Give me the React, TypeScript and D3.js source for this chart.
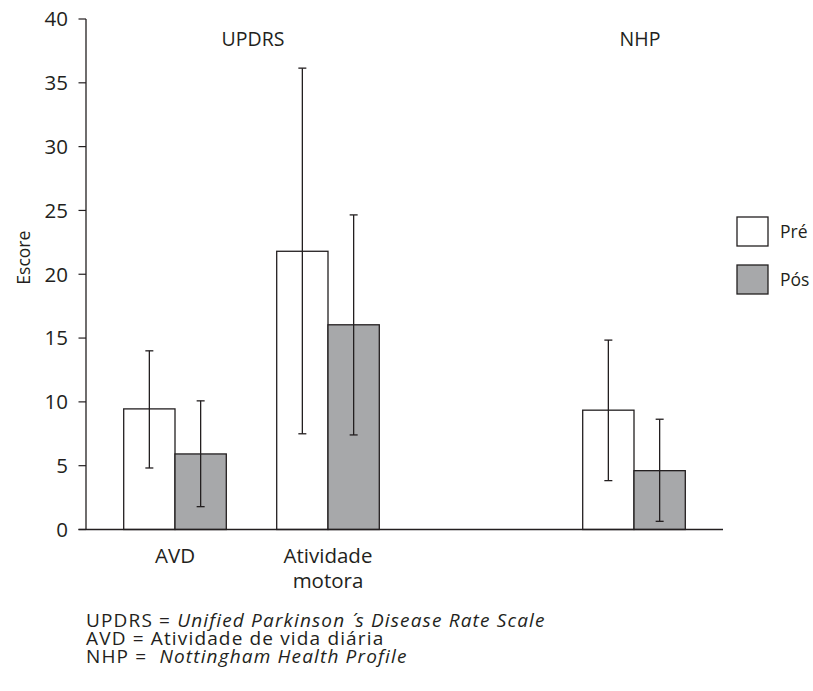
import React from "react";
import * as d3 from "d3";

const slots = ["AVD", "Atividade motora", "", "NHP"];
const categories = ["AVD", "Atividade motora", "NHP"];
const catLabels = [["AVD"], ["Atividade", "motora"], []];
const series = ["Pré", "Pós"];
const preMean = [9.45, 21.8, 9.35];
const preLow = [4.82, 7.5, 3.83];
const preHigh = [14.0, 36.15, 14.84];
const posMean = [5.92, 16.04, 4.61];
const posLow = [1.79, 7.41, 0.64];
const posHigh = [10.08, 24.65, 8.64];
const yTicks = [0, 5, 10, 15, 20, 25, 30, 35, 40];
const groupLabels = [
  { text: "UPDRS", at: 0, to: 1, shift: 1.5 },
  { text: "NHP", at: 3, to: 3, shift: 6 },
];

const W = 813;
const H = 691;
const ink = "#231f20";
const fills = ["#ffffff", "#a7a8aa"];
const font = "'Open Sans', sans-serif";

export default function App() {
  const y = d3.scaleLinear().domain([0, 40]).range([529.5, 19]);
  const x = d3.scaleBand().domain(slots).range([98.5, 710.5]).padding(0);
  const axisLeft = 86;
  const axisRight = 723;
  const barW = 51.3;
  const cap = 4;

  const data = categories.map((c, i) => ({
    c,
    vals: [
      { m: preMean[i], lo: preLow[i], hi: preHigh[i] },
      { m: posMean[i], lo: posLow[i], hi: posHigh[i] },
    ],
  }));

  const center = (c: string) => (x(c) as number) + x.bandwidth() / 2;

  return (
    <svg width={W} height={H} style={{ display: "block", position: "absolute", left: 0, top: 0 }} fontFamily={font}>
      <rect width={W} height={H} fill="#fff" />
      {/* y axis */}
      <line x1={axisLeft} x2={axisLeft} y1={y(40)} y2={y(0)} stroke={ink} strokeWidth={1.3} />
      {yTicks.map((t) => (
        <g key={t}>
          <line x1={axisLeft - 7.5} x2={axisLeft} y1={y(t)} y2={y(t)} stroke={ink} strokeWidth={1.2} />
          <text x={axisLeft - 18} y={y(t)} dy="0.36em" textAnchor="end" fontSize={20.5} fill={ink}>
            {t}
          </text>
        </g>
      ))}
      <text transform={`translate(30,${y(21.3)}) rotate(-90)`} textAnchor="middle" fontSize={17.5} fill={ink}>
        Escore
      </text>
      {/* bars */}
      {data.map((d, i) => {
        const cx = center(d.c);
        return (
          <g key={d.c}>
            {d.vals.map((v, j) => {
              const x0 = cx - barW + j * barW;
              const bx = x0 + barW / 2;
              return (
                <g key={j}>
                  <rect x={x0} y={y(v.m)} width={barW} height={y(0) - y(v.m)} fill={fills[j]} stroke={ink} strokeWidth={1.3} />
                  <line x1={bx} x2={bx} y1={y(v.hi)} y2={y(v.lo)} stroke={ink} strokeWidth={1.3} />
                  <line x1={bx - cap} x2={bx + cap} y1={y(v.hi)} y2={y(v.hi)} stroke={ink} strokeWidth={1.3} />
                  <line x1={bx - cap} x2={bx + cap} y1={y(v.lo)} y2={y(v.lo)} stroke={ink} strokeWidth={1.3} />
                </g>
              );
            })}
            {catLabels[i].map((l, k) => (
              <text key={k} x={cx} y={563 + k * 25} textAnchor="middle" fontSize={20.5} fill={ink}>
                {l}
              </text>
            ))}
          </g>
        );
      })}
      {/* x axis */}
      <line x1={axisLeft - 7.5} x2={axisRight} y1={y(0)} y2={y(0)} stroke={ink} strokeWidth={1.3} />
      {/* group labels */}
      {groupLabels.map((g) => (
        <text key={g.text} x={(center(slots[g.at]) + center(slots[g.to])) / 2 + g.shift} y={46} textAnchor="middle" fontSize={19.5} fill={ink}>
          {g.text}
        </text>
      ))}
      {/* legend */}
      {series.map((s, j) => (
        <g key={s} transform={`translate(737,${217 + j * 48})`}>
          <rect x={0} y={0} width={31} height={29} fill={fills[j]} stroke={ink} strokeWidth={1.3} />
          <text x={43} y={15} dy="0.36em" fontSize={17.5} fill={ink}>
            {s}
          </text>
        </g>
      ))}
      {/* footnote */}
      <g fontSize={19} fill={ink} letterSpacing={1.15}>
        <text x={86} y={627}>
          UPDRS = <tspan fontStyle="italic">Unified Parkinson ´</tspan>
          <tspan fontStyle="italic" dx={3}>s Disease Rate Scale</tspan>
        </text>
        <text x={86} y={645}>AVD = Atividade de vida diária</text>
        <text x={86} y={663} xmlSpace="preserve">
          {"NHP =  "}
          <tspan fontStyle="italic">Nottingham Health Profile</tspan>
        </text>
      </g>
    </svg>
  );
}
